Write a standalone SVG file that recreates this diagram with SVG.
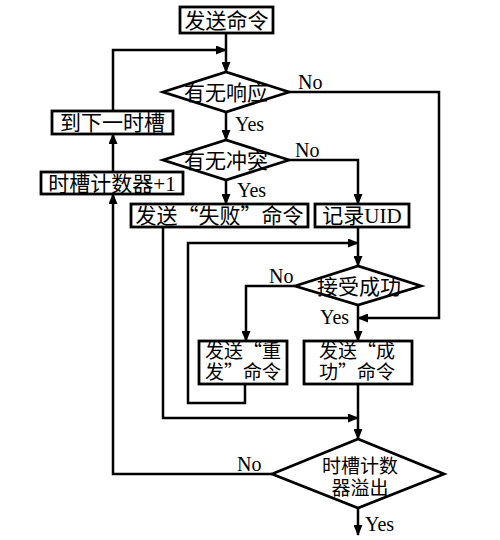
<svg xmlns="http://www.w3.org/2000/svg" width="500" height="540" viewBox="0 0 500 540">
<style>
.bx{fill:#fff;stroke:#000;stroke-width:2.8}
.t{font-family:"Noto Sans CJK SC","Liberation Serif",sans-serif;font-size:21px;fill:#000;text-anchor:middle}
.t2{font-size:19px}
.lat{font-family:"Liberation Serif",serif}
.lb{font-family:"Liberation Serif",serif;font-size:20px;fill:#000}
.ln{fill:none;stroke:#000;stroke-width:2.5;marker-end:url(#ah)}
</style>
<defs>
<marker id="ah" markerUnits="userSpaceOnUse" markerWidth="11" markerHeight="9" refX="10" refY="4.5" orient="auto">
<path d="M0,0 L11,4.5 L0,9 Z" fill="#000"/>
</marker>
</defs>
<rect width="500" height="540" fill="#fff"/>
<g id="connectors">
<path class="ln" d="M226,33 V72"/>
<path class="ln" d="M113,111 V50 H226"/>
<path class="ln" d="M289,92 H439 V318 H358"/>
<path class="ln" d="M226,112 V140"/>
<path class="ln" d="M289,160 H358 V204"/>
<path class="ln" d="M226,180 V204"/>
<path class="ln" d="M113,172 V134"/>
<path class="ln" d="M358,227 V266"/>
<path class="ln" d="M163,227 V418 H358"/>
<path class="ln" d="M245,384 V403 H188 V243 H358"/>
<path class="ln" d="M295,286 H246 V341"/>
<path class="ln" d="M358,305 V341"/>
<path class="ln" d="M358,384 V439"/>
<path class="ln" d="M272,474 H113 V194"/>
<path class="ln" d="M358,508 V535"/>
<text class="lb" x="298" y="89">No</text>
<text class="lb" x="235" y="131">Yes</text>
<text class="lb" x="295" y="157">No</text>
<text class="lb" x="237" y="197">Yes</text>
<text class="lb" x="269" y="283">No</text>
<text class="lb" x="320" y="324">Yes</text>
<text class="lb" x="237" y="471">No</text>
<text class="lb" x="365" y="531">Yes</text>
</g>
<g id="n-send">
<rect class="bx" x="180" y="7" width="93" height="26"/>
<text class="t" x="226.5" y="28">发送命令</text>
</g>
<g id="n-resp">
<polygon class="bx" points="163,92 226,72 289,92 226,112"/>
<text class="t" x="226" y="100">有无响应</text>
</g>
<g id="n-next">
<rect class="bx" x="52" y="111" width="121" height="23"/>
<text class="t" x="112.5" y="130">到下一时槽</text>
</g>
<g id="n-coll">
<polygon class="bx" points="163,160 226,140 289,160 226,180"/>
<text class="t" x="226" y="168">有无冲突</text>
</g>
<g id="n-inc">
<rect class="bx" x="41" y="172" width="142" height="22"/>
<text class="t" x="112" y="191">时槽计数器<tspan class="lat">+1</tspan></text>
</g>
<g id="n-fail">
<rect class="bx" x="131" y="204" width="177" height="23"/>
<text class="t" x="219.5" y="223">发送“失败”命令</text>
</g>
<g id="n-uid">
<rect class="bx" x="315" y="204" width="94" height="23"/>
<text class="t" x="362" y="223">记录<tspan class="lat">UID</tspan></text>
</g>
<g id="n-ok">
<polygon class="bx" points="295,286 358,266 421,286 358,305"/>
<text class="t" x="359" y="294">接受成功</text>
</g>
<g id="n-resend">
<rect class="bx" x="199" y="341" width="88" height="43"/>
<text class="t t2" x="243" y="358">发送“重<tspan x="243" dy="21">发”命令</tspan></text>
</g>
<g id="n-succ">
<rect class="bx" x="304" y="341" width="108" height="43"/>
<text class="t t2" x="357" y="358">发送“成<tspan x="357" dy="21">功”命令</tspan></text>
</g>
<g id="n-ovf">
<polygon class="bx" points="272,474 358,439 444,474 358,508"/>
<text class="t t2" x="360" y="473">时槽计数<tspan x="360" dy="22">器溢出</tspan></text>
</g>
</svg>
